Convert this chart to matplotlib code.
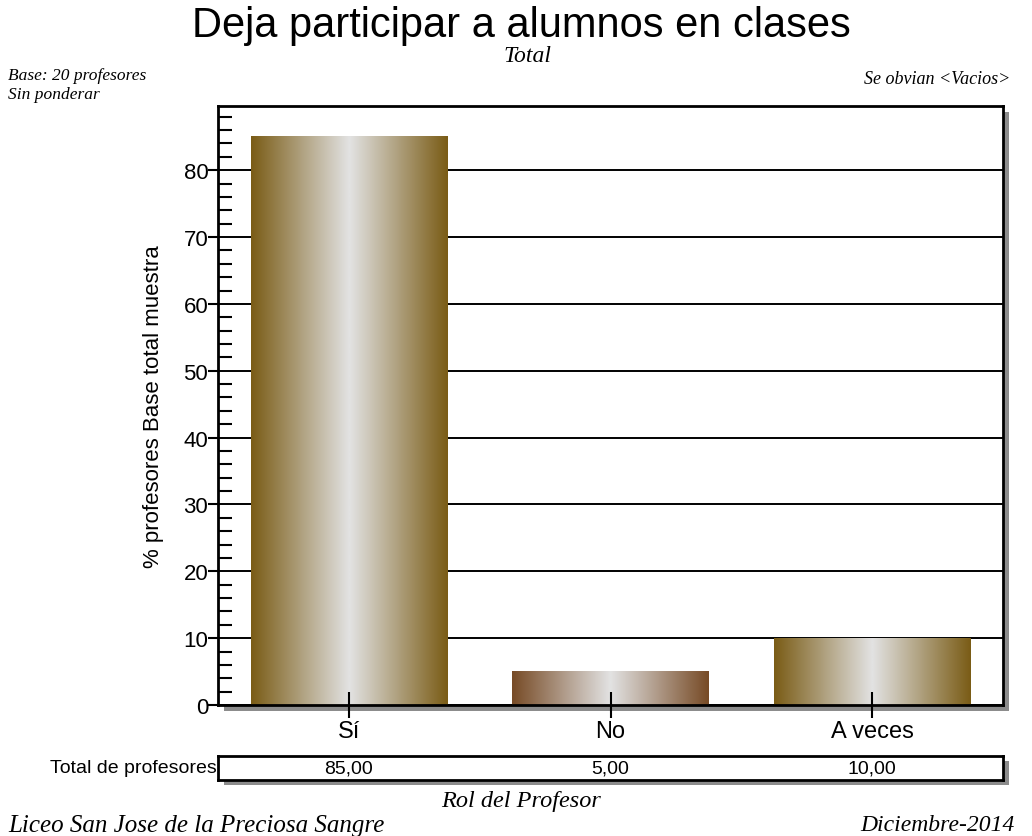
import numpy as np
import matplotlib
matplotlib.use('Agg')
from matplotlib import pyplot as plt
from matplotlib.colors import LinearSegmentedColormap
from matplotlib.patches import Rectangle

categories = ['Sí', 'No', 'A veces']
values = [85, 5, 10]
edge_colors = ['#7a5c16', '#774b26', '#7a5c16']

sans = ['Liberation Sans', 'DejaVu Sans']
narrow = ['Liberation Sans Narrow', 'Liberation Sans', 'DejaVu Sans']
serif = ['Liberation Serif', 'DejaVu Serif']

fig = plt.figure(figsize=(10.32, 8.37), dpi=100)
W, H = 1032, 837

def fx(px):
    return px / W

def fy(py):
    return 1 - py / H

# main axes
ax = fig.add_axes([fx(218), fy(706), fx(1003) - fx(218), fy(107) - fy(706)])

# drop shadows
sh = 6
fig.patches.append(Rectangle((fx(218 + sh), fy(706 + sh)), fx(1003) - fx(218), fy(107) - fy(706),
                             transform=fig.transFigure, facecolor='#8c8c8c', edgecolor='none', zorder=-1))
fig.patches.append(Rectangle((fx(218 + sh), fy(781 + sh - 1)), fx(1003) - fx(218), fy(757) - fy(781),
                             transform=fig.transFigure, facecolor='#8c8c8c', edgecolor='none', zorder=-1))

x = np.arange(len(categories))
bars = ax.bar(x, values, width=0.75, color='none', edgecolor='none', zorder=3)

grad = np.concatenate([np.linspace(0, 1, 128), np.linspace(1, 0, 128)]).reshape(1, -1)
for b, ec in zip(bars, edge_colors):
    cmap = LinearSegmentedColormap.from_list('g', [ec, '#e2e2e2'])
    x0 = b.get_x()
    ax.imshow(grad, cmap=cmap, extent=(x0, x0 + b.get_width(), 0, b.get_height()),
              aspect='auto', zorder=3, interpolation='bilinear')

ax.set_xlim(-0.5, 2.5)
ax.set_ylim(0, 89.6)

ax.set_yticks(np.arange(0, 81, 10))
ax.set_yticks(np.arange(0, 89, 2), minor=True)
ax.yaxis.grid(True, which='major', color='black', linewidth=1.4, zorder=1)
ax.set_axisbelow(True)
ax.tick_params(axis='y', which='major', direction='out', length=7, width=1.5, labelsize=16, pad=0)
ax.tick_params(axis='y', which='minor', direction='in', length=10, width=1.5)
ax.set_xticks(x)
ax.set_xticklabels(categories)
ax.tick_params(axis='x', direction='inout', length=19, width=1.5, labelsize=17, pad=1)
for lab in ax.get_xticklabels() + ax.get_yticklabels():
    lab.set_family(sans)
ax.xaxis.set_zorder(5)
for s in ax.spines.values():
    s.set_linewidth(2)
    s.set_zorder(6)

ax.set_ylabel('% profesores Base total muestra', fontsize=16, family=narrow, labelpad=14)

# table row
tax = fig.add_axes([fx(218), fy(781), fx(1003) - fx(218), fy(757) - fy(781)])
tax.set_xlim(-0.5, 2.5)
tax.set_ylim(0, 1)
tax.set_xticks([])
tax.set_yticks([])
for s in tax.spines.values():
    s.set_linewidth(2)
for xi, v in zip(x, values):
    tax.text(xi, 0.5, f'{v:.2f}'.replace('.', ','), ha='center', va='center', fontsize=14, family=sans)
tax.text(-0.505, 0.5, 'Total de profesores', ha='right', va='center', fontsize=14, family=sans)

# texts
fig.text(fx(521), fy(26), 'Deja participar a alumnos en clases', ha='center', va='center', fontsize=30, family=sans)
fig.text(fx(527), fy(57), 'Total', ha='center', va='center', fontsize=17, family=serif, style='italic')
fig.text(fx(8), fy(76), 'Base: 20 profesores', ha='left', va='center', fontsize=12.5, family=serif, style='italic')
fig.text(fx(8), fy(95), 'Sin ponderar', ha='left', va='center', fontsize=12.5, family=serif, style='italic')
fig.text(fx(1010), fy(80), 'Se obvian <Vacios>', ha='right', va='center', fontsize=13, family=serif, style='italic')
fig.text(fx(521), fy(802), 'Rol del Profesor', ha='center', va='center', fontsize=17.5, family=serif, style='italic')
fig.text(fx(8), fy(826), 'Liceo San Jose de la Preciosa Sangre', ha='left', va='center', fontsize=18, family=serif, style='italic')
fig.text(fx(1015), fy(826), 'Diciembre-2014', ha='right', va='center', fontsize=17, family=serif, style='italic')

plt.savefig('out.png', dpi=100)
plt.close()
